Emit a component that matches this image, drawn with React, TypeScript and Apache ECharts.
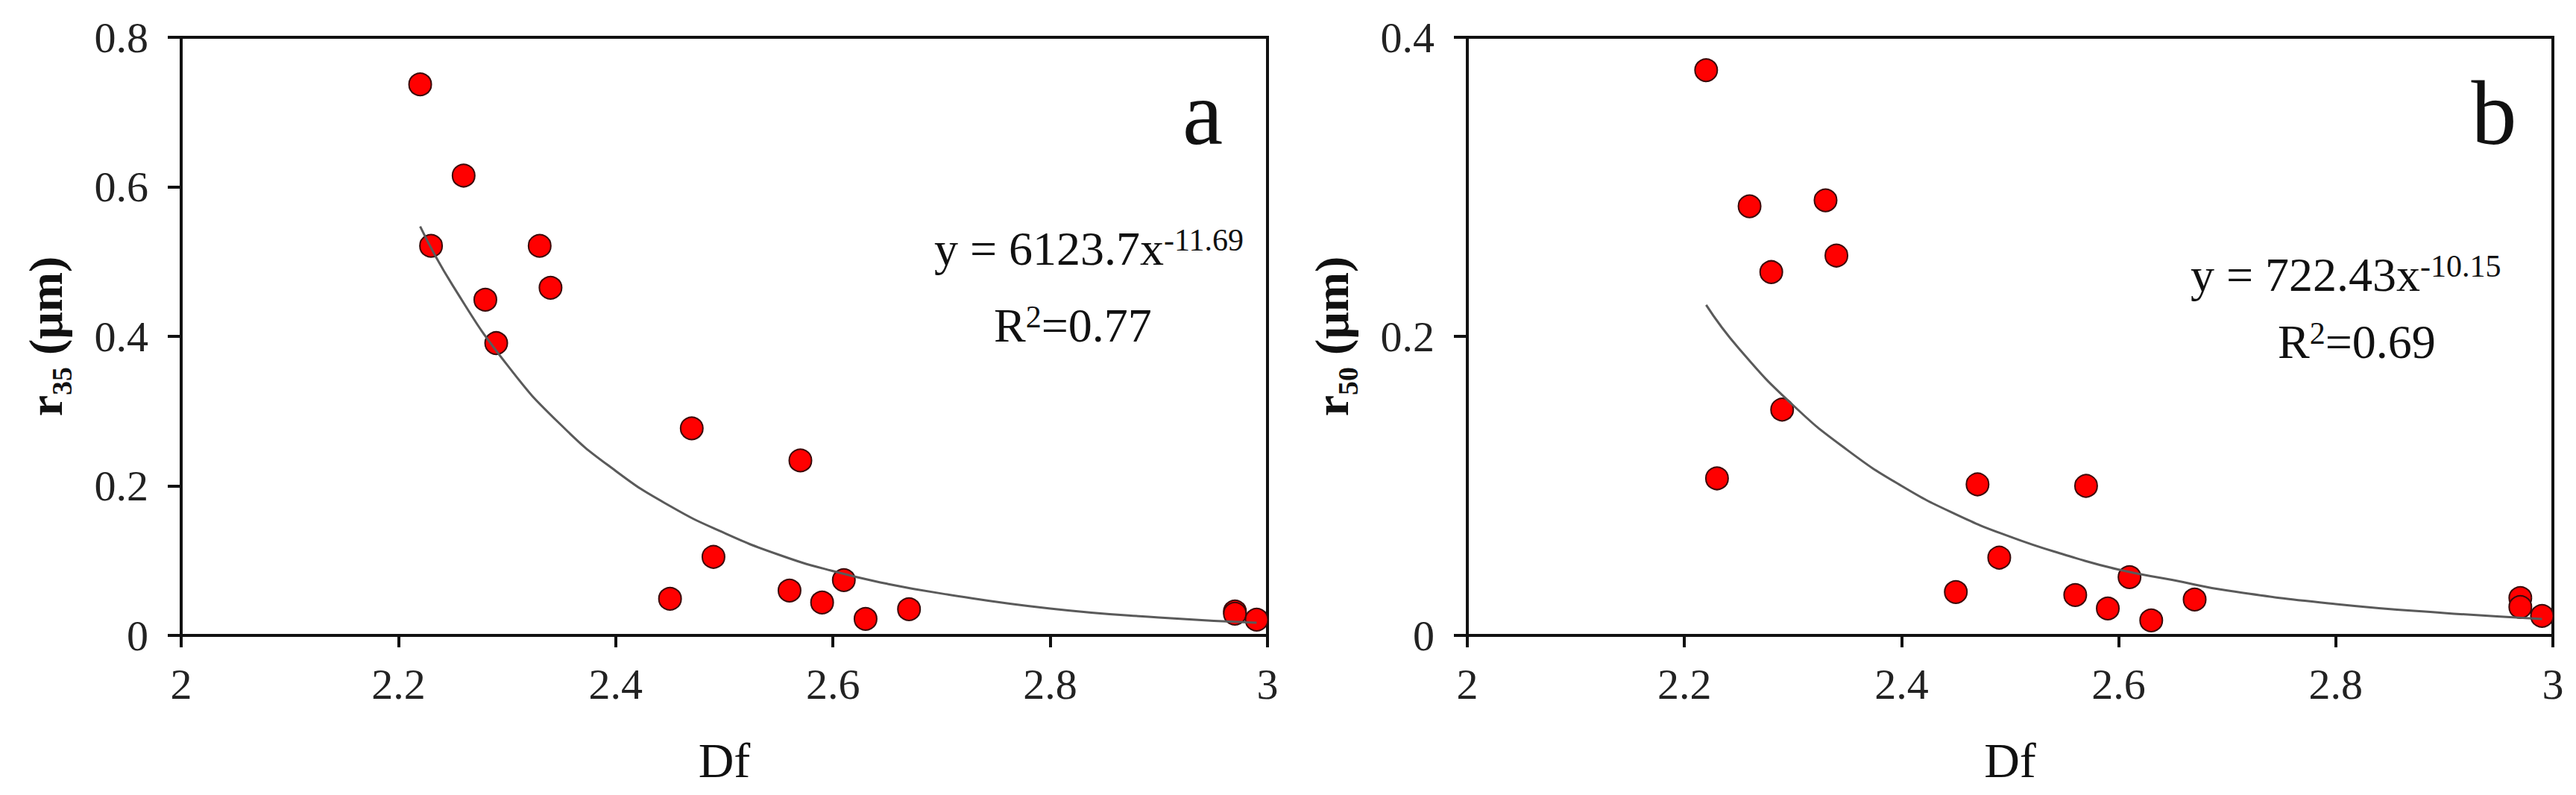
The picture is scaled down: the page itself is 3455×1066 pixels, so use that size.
import React, { useEffect, useRef } from "react";
import * as echarts from "echarts";

// Fractal dimension of each sample (shared by both panels)
const dfValues = [2.22, 2.23, 2.26, 2.28, 2.29, 2.33, 2.34, 2.47, 2.45, 2.49, 2.57, 2.56, 2.59, 2.61, 2.63, 2.67, 2.97, 2.97, 2.99];
// Panel a: r35 (μm)
const r35Values = [0.737, 0.521, 0.615, 0.449, 0.391, 0.521, 0.465, 0.277, 0.049, 0.105, 0.234, 0.06, 0.044, 0.074, 0.022, 0.035, 0.032, 0.029, 0.021];
// Panel b: r50 (μm)
const r50Values = [0.378, 0.105, 0.287, 0.243, 0.151, 0.291, 0.254, 0.101, 0.029, 0.052, 0.1, 0.027, 0.018, 0.039, 0.01, 0.024, 0.025, 0.019, 0.013];

// Power-law trend lines
const trendDf = [2.22, 2.25, 2.3, 2.35, 2.4, 2.45, 2.5, 2.55, 2.6, 2.65, 2.7, 2.8, 2.9, 2.99];
const trendR35 = [0.547, 0.468, 0.362, 0.281, 0.22, 0.173, 0.137, 0.108, 0.086, 0.069, 0.056, 0.036, 0.024, 0.017];
const trendR50 = [0.221, 0.192, 0.154, 0.124, 0.1, 0.081, 0.066, 0.054, 0.044, 0.037, 0.03, 0.021, 0.015, 0.011];

const xTickMin = 2;
const xTickMax = 3;
const xTickStep = 0.2;
const yMaxA = 0.8;
const yMaxB = 0.4;
const yStep = 0.2;

const FONT = "'Liberation Serif', 'Times New Roman', serif";
const INK = "#111";

export default function App() {
  const ref = useRef<HTMLDivElement>(null);

  useEffect(() => {
    const chart = echarts.init(ref.current!, null, { renderer: "svg" });

    const zip = (xs: number[], ys: number[]) => xs.map((x, i) => [x, ys[i]]);

    const xAxisFor = (gridIndex: number) => ({
      type: "value",
      gridIndex,
      min: xTickMin,
      max: xTickMax,
      interval: xTickStep,
      name: "Df",
      nameLocation: "middle",
      nameGap: 134,
      nameTextStyle: { fontFamily: FONT, fontSize: 66, color: INK },
      axisLine: { show: true, onZero: false, lineStyle: { color: INK, width: 4 } },
      axisTick: { show: true, inside: false, length: 16, lineStyle: { color: INK, width: 4 } },
      axisLabel: { fontFamily: FONT, fontSize: 58, color: "#222", margin: 36 },
      splitLine: { show: false },
    });

    const yName = (sub: string) => `{n|r}{s|${sub}}{n| (μm)}`;

    const yAxisFor = (gridIndex: number, max: number, sub: string) => ({
      type: "value",
      gridIndex,
      min: 0,
      max,
      interval: yStep,
      name: yName(sub),
      nameLocation: "middle",
      nameGap: 150,
      nameRotate: 90,
      nameTextStyle: {
        fontFamily: FONT,
        color: INK,
        rich: {
          n: { fontFamily: FONT, fontSize: 64, fontWeight: "bold", lineHeight: 64, verticalAlign: "top", color: INK },
          s: { fontFamily: FONT, fontSize: 38, fontWeight: "bold", lineHeight: 38, verticalAlign: "top", padding: [35, 0, 0, 0], color: INK },
        },
      },
      axisLine: { show: true, onZero: false, lineStyle: { color: INK, width: 4 } },
      axisTick: { show: true, inside: false, length: 18, lineStyle: { color: INK, width: 4 } },
      axisLabel: { fontFamily: FONT, fontSize: 58, color: "#222", margin: 44 },
      splitLine: { show: false },
    });

    const eqRich = {
      m: { fontFamily: FONT, fontSize: 64, lineHeight: 64, verticalAlign: "top", fill: INK, color: INK },
      p: { fontFamily: FONT, fontSize: 42, lineHeight: 36, verticalAlign: "top", fill: INK, color: INK },
    };

    const textEl = (x: number, y: number, text: string, align = "left") => ({
      type: "text",
      x,
      y,
      z: 10,
      style: {
        text,
        fill: INK,
        font: `64px ${FONT}`,
        align,
        verticalAlign: "middle",
        rich: eqRich,
      },
    });

    const option = {
      animation: false,
      backgroundColor: "#ffffff",
      grid: [
        { left: 243, top: 50, width: 1457, height: 802, show: true, borderColor: INK, borderWidth: 4, backgroundColor: "transparent" },
        { left: 1968, top: 50, width: 1456, height: 802, show: true, borderColor: INK, borderWidth: 4, backgroundColor: "transparent" },
      ],
      xAxis: [xAxisFor(0), xAxisFor(1)],
      yAxis: [yAxisFor(0, yMaxA, "35"), yAxisFor(1, yMaxB, "50")],
      series: [
        {
          type: "scatter",
          xAxisIndex: 0,
          yAxisIndex: 0,
          data: zip(dfValues, r35Values),
          symbol: "circle",
          symbolSize: 30,
          itemStyle: { color: "#ff0000", borderColor: "#3a0a0a", borderWidth: 2, opacity: 1 },
          z: 2,
        },
        {
          type: "line",
          xAxisIndex: 0,
          yAxisIndex: 0,
          data: zip(trendDf, trendR35),
          showSymbol: false,
          smooth: true,
          lineStyle: { color: "#5a5a5a", width: 3 },
          z: 3,
        },
        {
          type: "scatter",
          xAxisIndex: 1,
          yAxisIndex: 1,
          data: zip(dfValues, r50Values),
          symbol: "circle",
          symbolSize: 30,
          itemStyle: { color: "#ff0000", borderColor: "#3a0a0a", borderWidth: 2, opacity: 1 },
          z: 2,
        },
        {
          type: "line",
          xAxisIndex: 1,
          yAxisIndex: 1,
          data: zip(trendDf, trendR50),
          showSymbol: false,
          smooth: true,
          lineStyle: { color: "#5a5a5a", width: 3 },
          z: 3,
        },
      ],
      graphic: [
        textEl(1253, 333, "{m|y = 6123.7x}{p|-11.69}"),
        textEl(1333, 436, "{m|R}{p|2}{m|=0.77}"),
        textEl(2938, 368, "{m|y = 722.43x}{p|-10.15}"),
        textEl(3055, 458, "{m|R}{p|2}{m|=0.69}"),
        {
          type: "text",
          x: 1613,
          y: 151,
          z: 10,
          style: { text: "a", fill: INK, font: `122px ${FONT}`, align: "center", verticalAlign: "middle" },
        },
        {
          type: "text",
          x: 3345,
          y: 151,
          z: 10,
          style: { text: "b", fill: INK, font: `122px ${FONT}`, align: "center", verticalAlign: "middle" },
        },
      ],
    };

    chart.setOption(option as any);
    return () => chart.dispose();
  }, []);

  return (
    <div
      ref={ref}
      style={{ position: "fixed", left: 0, top: 0, width: 3455, height: 1066, background: "#fff" }}
    />
  );
}
